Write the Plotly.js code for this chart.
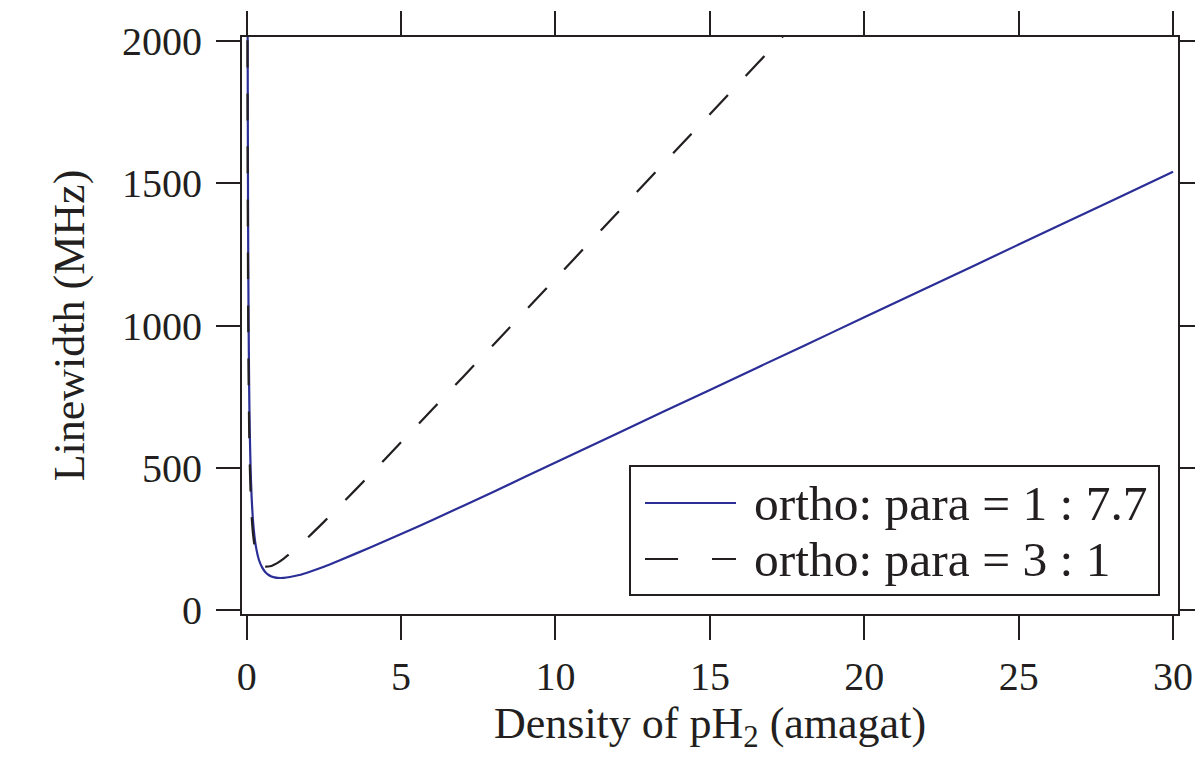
<!DOCTYPE html>
<html>
<head>
<meta charset="utf-8">
<script src="https://cdn.plot.ly/plotly-3.0.1.min.js"></script>
<style>html,body{margin:0;padding:0;background:#fff}#chart{width:1195px;height:762px}</style>
</head>
<body>
<div id="chart"></div>
<script>
// Density of pH2 (amagat)
var densityA = [0.03,0.04,0.05,0.06,0.08,0.1,0.13,0.16,0.2,0.25,0.3,0.4,0.5,0.6,0.7,0.8,0.9,1.0,1.2,1.4,1.7,2,2.5,3,4,5,6,8,10,12,15,18,20,22,25,28,30];
// Linewidth (MHz), ortho:para = 1:7.7
var widthA = [2070,1552,1243,1036,779,625,484,396,320,261,222,175,150,134,124,118,115,113,113,116,123,133,152,174,220,267,316,416,519,621,774,927,1029,1131,1285,1438,1541];

var densityB = [0.025,0.03,0.04,0.05,0.06,0.08,0.1,0.13,0.16,0.2,0.25,0.3,0.4,0.5,0.6,0.7,0.8,0.9,1.0,1.2,1.5,2,2.5,3,4,5,6,8,10,12,14,16,17.2,17.5];
// Linewidth (MHz), ortho:para = 3:1
var widthB = [2003,1670,1255,1006,840,634,512,400,331,273,229,201,171,158,153,153,155,160,166,181,207,257,310,365,476,590,704,934,1165,1396,1628,1859,1998,2033];

var seriesNames = ["ortho: para = 1 : 7.7", "ortho: para = 3 : 1"];
var xTicks = [0,5,10,15,20,25,30];
var yTicks = [0,500,1000,1500,2000];

var ink = '#231f20';
var blue = 'rgb(42,46,150)';
var serif = '"Liberation Serif", "Times New Roman", serif';

var traces = [
  {x: densityA, y: widthA, name: seriesNames[0], mode: 'lines', type: 'scatter',
   line: {color: blue, width: 2.2, shape: 'spline', smoothing: 0.6}, showlegend: false, hoverinfo: 'none'},
  {x: densityB, y: widthB, name: seriesNames[1], mode: 'lines', type: 'scatter',
   line: {color: ink, width: 2.2, dash: '27px,26px', shape: 'spline', smoothing: 0.6}, showlegend: false, hoverinfo: 'none'}
];

// plot area: x 242..1178 px, y 37..614 px
var L = 242, R = 1178, T = 37, B = 614;
function px(xp){ return (xp - L) / (R - L); }
function py(yp){ return (B - yp) / (B - T); }

var axisCommon = {
  showline: true, linecolor: ink, linewidth: 2, mirror: 'allticks',
  ticks: 'outside', ticklen: 24, tickwidth: 2, tickcolor: ink,
  showgrid: false, zeroline: false,
  tickfont: {family: serif, size: 40, color: ink}
};

var layout = {
  width: 1195, height: 762,
  margin: {l: L, r: 1195 - R, t: T, b: 762 - B, pad: 0},
  paper_bgcolor: '#fff', plot_bgcolor: '#fff',
  font: {family: serif, color: ink},
  showlegend: false,
  xaxis: Object.assign({}, axisCommon, {
    range: [-0.152, 30.16], tickvals: xTicks, ticktext: xTicks.map(String),
    ticklabelstandoff: 2,
    title: {text: 'Density of pH<sub>2</sub> (amagat)', font: {family: serif, size: 44, color: ink}, standoff: 8}
  }),
  yaxis: Object.assign({}, axisCommon, {
    range: [-14, 2014.8], tickvals: yTicks, ticktext: yTicks.map(String),
    ticklabelstandoff: 6,
    title: {text: 'Linewidth (MHz)', font: {family: serif, size: 44, color: ink}, standoff: 24}
  }),
  shapes: [
    {type: 'rect', xref: 'paper', yref: 'paper', x0: px(630), x1: px(1159), y0: py(595), y1: py(466),
     line: {color: ink, width: 2}, fillcolor: '#fff', layer: 'above'},
    {type: 'line', xref: 'paper', yref: 'paper', x0: px(645), x1: px(736), y0: py(503), y1: py(503),
     line: {color: blue, width: 2.2}},
    {type: 'line', xref: 'paper', yref: 'paper', x0: px(645), x1: px(736), y0: py(559), y1: py(559),
     line: {color: ink, width: 2.2, dash: '33px,34px'}}
  ],
  annotations: [
    {xref: 'paper', yref: 'paper', x: px(752), y: py(503), xanchor: 'left', yanchor: 'middle',
     text: seriesNames[0], showarrow: false, font: {family: serif, size: 49.5, color: ink}},
    {xref: 'paper', yref: 'paper', x: px(752), y: py(559), xanchor: 'left', yanchor: 'middle',
     text: seriesNames[1], showarrow: false, font: {family: serif, size: 49.5, color: ink}}
  ]
};

Plotly.newPlot('chart', traces, layout, {staticPlot: true, displayModeBar: false});
</script>
</body>
</html>
